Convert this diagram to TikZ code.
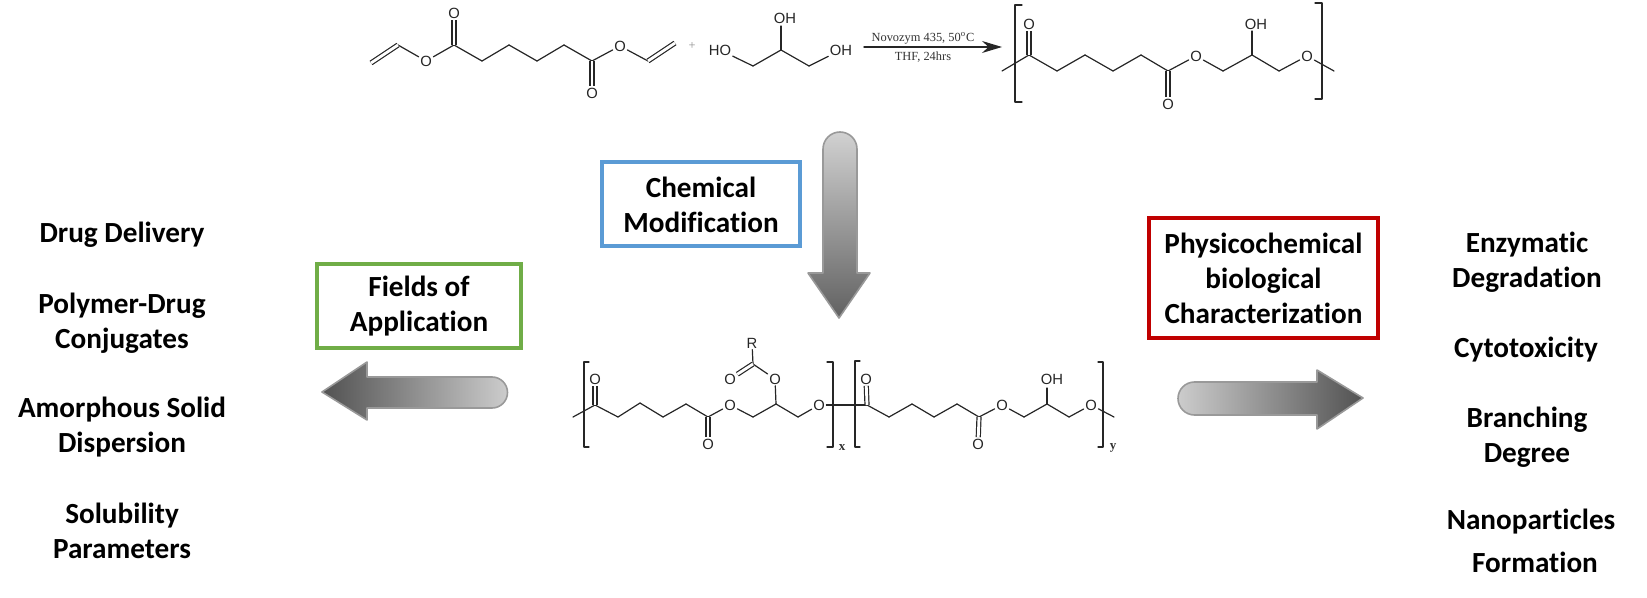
\documentclass[tikz,border=0pt]{standalone}
\usepackage{fontspec}
\setmainfont[Ligatures=CommonOff]{Carlito}
\newfontfamily\atomfont{Liberation Sans}
\newfontfamily\rxnfont{Liberation Serif}
\usetikzlibrary{arrows.meta}
\definecolor{chemblue}{HTML}{5B9BD5}
\definecolor{appgreen}{HTML}{70AD47}
\definecolor{charred}{HTML}{C00000}

\begin{document}
\begin{tikzpicture}[x=0.5pt,y=-0.5pt]
    \tikzstyle{bond}=[draw=black!85,line width=0.6pt,line cap=round,line join=round]
    \tikzstyle{dbl}=[bond,double,double distance=1.4pt,line cap=butt]
    \tikzstyle{atom}=[inner sep=0.6pt,text=black!85,font=\atomfont\fontsize{7.4}{9}\selectfont]
    \tikzstyle{rxn}=[inner sep=0pt,text=black!80,font=\rxnfont\fontsize{6.2}{8}\selectfont]
    \tikzstyle{label}=[align=center,inner sep=0pt,font=\bfseries\fontsize{14.6}{17.5}\selectfont]
    \tikzstyle{topic}=[label,draw,line width=2pt,minimum height=42pt]
    \tikzstyle{bigarrow}=[draw=black!40,line width=0.8pt,line join=round]

    \useasboundingbox (0,0) rectangle (1647,598);

    % Monomers
    \foreach \name/\px/\py in {a/371/63,b/398/45,c1/454/45,c2/482/61,c3/509/45,c4/537/61,c5/564/45,c6/592/61,d/648/61,e/675/43,g1/753/66,g2/781/50,g3/809/66}
        \coordinate (\name) at (\px,\py);
    \foreach \name/\txt/\px/\py in {o1/O/426/61,o2/O/454/13,o3/O/592/93,o4/O/620/46,h1/HO/720/50,h2/OH/785/18,h3/OH/841/50}
        \node[atom] (\name) at (\px,\py) {\txt};
    \node[rxn,text=black!45] (plus) at (692,46) {+};
    \foreach \source/\dest in {b/o1,o1/c1,c1/c2,c2/c3,c3/c4,c4/c5,c5/c6,c6/o4,o4/d,h1/g1,g1/g2,g2/g3,g3/h3}
        \path[bond] (\source) -- (\dest);
    \path[bond] (g2) -- (781,26);
    \foreach \source/\dest in {a/b,c1/o2,c6/o3,d/e}
        \path[dbl] (\source) -- (\dest);

    % Reaction arrow
    \coordinate (rxna) at (864,47);
    \coordinate (rxnb) at (1002,47);
    \path[bond,line width=0.7pt,-{Stealth[length=10pt,width=6pt]}] (rxna) -- (rxnb);
    \node[rxn] (cat) at (923,38.5) {Novozym 435, 50\textsuperscript{o}C};
    \node[rxn] (solv) at (923,57) {THF, 24hrs};

    % Linear polymer
    \foreach \name/\px/\py in {s1/1002/71,s2/1029/55,s3/1057/71,s4/1085/55,s5/1113/71,s6/1141/55,s7/1168/71,s8/1223/71,s9/1252/55,s10/1279/71,s11/1334/71}
        \coordinate (\name) at (\px,\py);
    \foreach \name/\txt/\px/\py in {so1/O/1029/24,so2/O/1168/104,so3/O/1196/56,so4/OH/1256/24,so5/O/1307/56}
        \node[atom] (\name) at (\px,\py) {\txt};
    \foreach \source/\dest in {s1/s2,s2/s3,s3/s4,s4/s5,s5/s6,s6/s7,s7/so3,so3/s8,s8/s9,s9/s10,s10/so5,so5/s11}
        \path[bond] (\source) -- (\dest);
    \path[bond] (s9) -- (1252,31);
    \path[dbl] (s2) -- (so1);
    \path[dbl] (s7) -- (so2);
    \path[bond] (1022,5) -- (1015,5) -- (1015,102) -- (1022,102);
    \path[bond] (1315,3) -- (1322,3) -- (1322,99) -- (1315,99);

    % Modified polymer
    \foreach \name/\px/\py in {m1/573/417,m2/595/405,m3/618/417,m4/640/403,m5/663/417,m6/686/404,m7/708/417,m8/753/417,m9/776/404,m10/798/417,m11/753/364,m12/867/405,m13/889/417,m14/912/404,m15/934/417,m16/957/404,m17/979/417,m18/1024/417,m19/1047/404,m20/1069/417,m21/1114/417}
        \coordinate (\name) at (\px,\py);
    \foreach \name/\txt/\px/\py in {mo1/O/595/379,mo2/O/708/444,mo3/O/730/405,mo4/O/775/379,mo5/O/730/379,mr/R/752/343,mo6/O/819/405,mo7/O/866/379,mo8/O/978/444,mo9/O/1002/405,mo10/OH/1052/379,mo11/O/1091/405}
        \node[atom] (\name) at (\px,\py) {\txt};
    \foreach \source/\dest in {m1/m2,m2/m3,m3/m4,m4/m5,m5/m6,m6/m7,m7/mo3,mo3/m8,m8/m9,m9/m10,m10/mo6,mo6/m12,m9/mo4,mo4/m11,m11/mr,m12/m13,m13/m14,m14/m15,m15/m16,m16/m17,m17/mo9,mo9/m18,m18/m19,m19/m20,m20/mo11,mo11/m21}
        \path[bond] (\source) -- (\dest);
    \path[bond] (m19) -- (1047,388);
    \foreach \source/\dest in {m2/mo1,m7/mo2,m11/mo5,m12/mo7,m17/mo8}
        \path[dbl] (\source) -- (\dest);
    \path[bond] (589,362) -- (584,362) -- (584,447) -- (589,447);
    \path[bond] (827,362) -- (833,362) -- (833,447) -- (827,447);
    \path[bond] (860,361) -- (855,361) -- (855,447) -- (860,447);
    \path[bond] (1098,362) -- (1103,362) -- (1103,447) -- (1098,447);
    \node[rxn,font=\rxnfont\bfseries\fontsize{6.5}{8}\selectfont] (subx) at (842,448) {x};
    \node[rxn,font=\rxnfont\bfseries\fontsize{6.5}{8}\selectfont] (suby) at (1113,448) {y};

    % Block arrows
    \path[bigarrow,top color=black!18,bottom color=black!62]
        (823,149) arc (180:360:17) -- (857,273) -- (870,273) -- (839,318) -- (808,273) -- (823,273) -- cycle;
    \path[bigarrow,left color=black!68,right color=black!20]
        (322,392) -- (367,362) -- (367,377) -- (492,377) arc (-90:90:15.5) -- (367,408) -- (367,420) -- cycle;
    \path[bigarrow,left color=black!20,right color=black!68]
        (1363,398) -- (1317,370) -- (1317,382) -- (1194.5,382) arc (270:90:16.5) -- (1317,415) -- (1317,429) -- cycle;

    % Boxes
    \node[topic,draw=chemblue,minimum width=99pt] (chem) at (701,204.5) {Chemical\\Modification};
    \node[topic,draw=appgreen,minimum width=102pt] (field) at (419,306) {Fields of\\Application};
    \node[topic,draw=charred,minimum width=114.5pt,minimum height=60pt] (phys) at (1263.5,278) {Physicochemical\\biological\\Characterization};

    % Applications
    \node[label] (drug) at (122,235) {Drug Delivery};
    \node[label] (conj) at (122,323) {Polymer-Drug\\Conjugates};
    \node[label] (disp) at (122,427) {Amorphous Solid\\Dispersion};
    \node[label] (solu) at (122,531) {Solubility\\Parameters};

    % Characterizations
    \node[label] (enzy) at (1527,262) {Enzymatic\\Degradation};
    \node[label] (cyto) at (1526,350) {Cytotoxicity};
    \node[label] (bran) at (1527,437) {Branching\\Degree};
    \node[label] (nano) at (1531,522) {Nanoparticles};
    \node[label] (form) at (1535,562) {Formation};
\end{tikzpicture}
\end{document}
